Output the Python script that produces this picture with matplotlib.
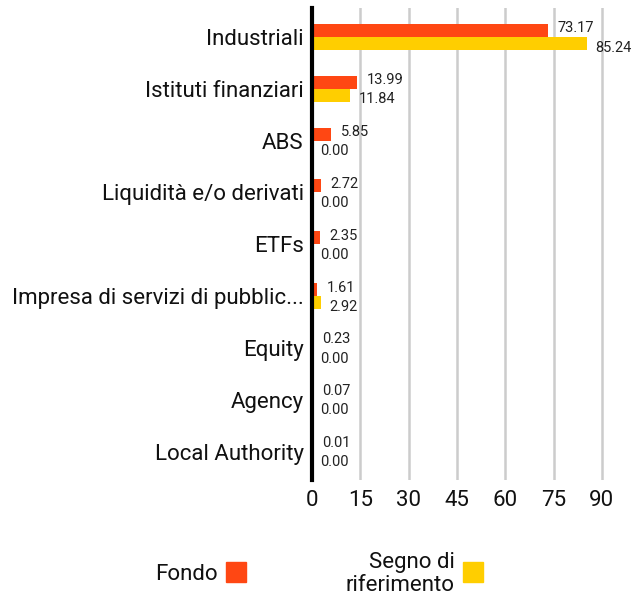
import numpy as np
import matplotlib
matplotlib.use("Agg")
import matplotlib.pyplot as plt
from matplotlib.patches import Rectangle

# Dati del grafico
categorie = ['Industriali', 'Istituti finanziari', 'ABS', 'Liquidità e/o derivati', 'ETFs',
             'Impresa di servizi di pubblic...', 'Equity', 'Agency', 'Local Authority']
fondo = [73.17, 13.99, 5.85, 2.72, 2.35, 1.61, 0.23, 0.07, 0.01]
riferimento = [85.24, 11.84, 0.00, 0.00, 0.00, 2.92, 0.00, 0.00, 0.00]
tick_x = [0, 15, 30, 45, 60, 75, 90]

ARANCIO = '#FF4713'
GIALLO = '#FFCE00'

plt.rcParams['font.family'] = ['Roboto', 'DejaVu Sans']

fig = plt.figure(figsize=(6.35, 5.96), dpi=100)
ax = fig.add_axes([312 / 635, 1 - 480 / 596, (618 - 312) / 635, (480 - 8) / 596])

y = np.arange(len(categorie))
h = 0.25
ax.barh(y - h / 2, fondo, height=h, color=ARANCIO, zorder=3)
ax.barh(y + h / 2, riferimento, height=h, color=GIALLO, zorder=3)

for yi, v in zip(y, fondo):
    ax.annotate(f'{v:.2f}', (v, yi - h / 2), xytext=(7, 1.5), textcoords='offset points',
                va='center', ha='left', fontsize=10.5, color='#222222')
for yi, v in zip(y, riferimento):
    ax.annotate(f'{v:.2f}', (v, yi + h / 2), xytext=(6, -3), textcoords='offset points',
                va='center', ha='left', fontsize=10.5, color='#222222')

ax.set_xlim(0, 95)
ax.set_ylim(len(categorie) - 0.45, -0.56)
ax.set_yticks(y)
ax.set_yticklabels(categorie, fontsize=16)
ax.set_xticks(tick_x)
ax.set_xticklabels([str(t) for t in tick_x], fontsize=16)
ax.tick_params(axis='both', length=0, colors='#111111')
ax.tick_params(axis='y', pad=6)
ax.tick_params(axis='x', pad=7)

ax.grid(axis='x', color='#cccccc', linewidth=1.8, zorder=0)
ax.set_axisbelow(True)
for s in ['top', 'right', 'bottom']:
    ax.spines[s].set_visible(False)
ax.spines['left'].set_linewidth(3)
ax.spines['left'].set_color('black')
ax.spines['left'].set_zorder(5)

# Legenda
W, H = 635, 596
fig.text(218 / W, 1 - 574 / H, 'Fondo', ha='right', va='center', fontsize=16, color='#111111')
fig.patches.append(Rectangle((226 / W, 1 - 582 / H), 20 / W, 20 / H, color=ARANCIO,
                             transform=fig.transFigure, figure=fig))
fig.text(455 / W, 1 - 574 / H, 'Segno di\nriferimento', ha='right', va='center', fontsize=16,
         color='#111111', multialignment='right', linespacing=1.1)
fig.patches.append(Rectangle((463 / W, 1 - 582 / H), 20 / W, 20 / H, color=GIALLO,
                             transform=fig.transFigure, figure=fig))

fig.savefig('out.png', dpi=100)
